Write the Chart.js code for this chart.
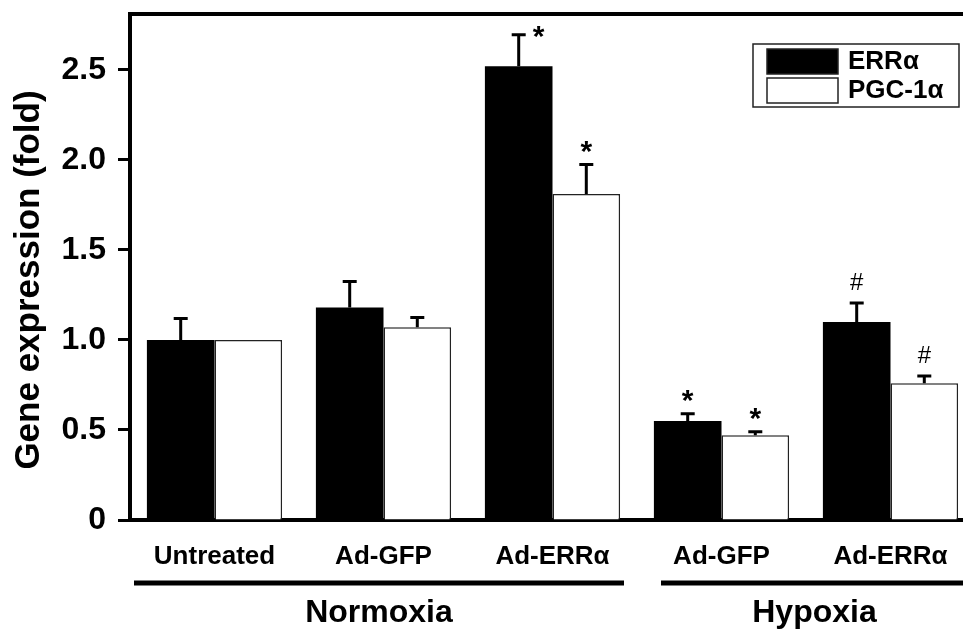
<!DOCTYPE html>
<html>
<head>
<meta charset="utf-8">
<script src="https://cdn.jsdelivr.net/npm/chart.js@4.4.1/dist/chart.umd.min.js"></script>
<style>
  html, body { margin: 0; padding: 0; background: #fff; overflow: hidden; width: 963px; height: 632px; }
  #wrap { position: absolute; left: 0; top: 0; width: 980px; height: 632px; }
  canvas { display: block; }
</style>
</head>
<body>
<div id="wrap"><canvas id="c" width="980" height="632"></canvas></div>
<script>
// ---- data ----
const categories = ['Untreated', 'Ad-GFP', 'Ad-ERR\u03B1', 'Ad-GFP', 'Ad-ERR\u03B1'];
const groupNames = ['Normoxia', 'Hypoxia'];
const groupFirst = [0, 3];
const groupLast = [2, 4];
const seriesNames = ['ERR\u03B1', 'PGC-1\u03B1'];
const errValues = [1.0, 1.18, 2.52, 0.55, 1.10];
const errErrors = [0.125, 0.15, 0.18, 0.045, 0.11];
const errMarks = ['', '', '*', '*', '#'];
const pgcValues = [1.0, 1.07, 1.81, 0.47, 0.76];
const pgcErrors = [0, 0.06, 0.17, 0.025, 0.045];
const pgcMarks = ['', '', '*', '*', '#'];
const yTicks = [0, 0.5, 1.0, 1.5, 2.0, 2.5];
const yTitle = 'Gene expression (fold)';

const FONT = '"Liberation Sans", Arial, Helvetica, sans-serif';
const errorsBySet = [errErrors, pgcErrors];
const marksBySet = [errMarks, pgcMarks];

const decorPlugin = {
  id: 'decor',
  afterDatasetsDraw(chart) {
    const ctx = chart.ctx;
    const area = chart.chartArea;
    const y = chart.scales.y;
    ctx.save();
    // top spine
    ctx.strokeStyle = '#000';
    ctx.lineWidth = 4;
    ctx.beginPath();
    ctx.moveTo(area.left - 2, area.top);
    ctx.lineTo(chart.width, area.top);
    ctx.stroke();
    // y-axis title
    ctx.save();
    ctx.translate(29, 280);
    ctx.rotate(-Math.PI / 2);
    ctx.fillStyle = '#000';
    ctx.font = 'bold 35px ' + FONT;
    ctx.textAlign = 'center';
    ctx.textBaseline = 'middle';
    ctx.fillText(yTitle, 0, 0);
    ctx.restore();
    // error bars and markers
    chart.data.datasets.forEach((ds, di) => {
      const meta = chart.getDatasetMeta(di);
      meta.data.forEach((bar, i) => {
        const v = ds.data[i];
        const e = errorsBySet[di][i];
        const yTop = y.getPixelForValue(v + e);
        const cx = bar.x;
        if (e > 0) {
          ctx.strokeStyle = '#000';
          ctx.lineWidth = 3;
          ctx.beginPath();
          ctx.moveTo(cx, bar.y);
          ctx.lineTo(cx, yTop);
          ctx.moveTo(cx - 7, yTop + 1);
          ctx.lineTo(cx + 7, yTop + 1);
          ctx.stroke();
        }
        const m = marksBySet[di][i];
        if (m) {
          ctx.fillStyle = '#000';
          ctx.textAlign = 'center';
          ctx.textBaseline = 'middle';
          if (m === '*') {
            ctx.font = 'bold 30px ' + FONT;
            let mx = cx, my = yTop - 11;
            if (my - 20 < area.top) { mx = cx + 20; my = yTop + 4; }
            ctx.fillText(m, mx, my);
          } else {
            ctx.font = '24px ' + FONT;
            ctx.fillText(m, cx, yTop - 19);
          }
        }
      });
    });
    // legend box
    const lx = 753, ly = 44, lw = 206, lh = 63;
    ctx.lineWidth = 1.5;
    ctx.strokeStyle = '#222';
    ctx.strokeRect(lx, ly, lw, lh);
    chart.data.datasets.forEach((ds, di) => {
      const sy = ly + 5 + di * 29;
      ctx.fillStyle = ds.backgroundColor;
      ctx.fillRect(lx + 14, sy, 71, 25);
      ctx.lineWidth = 1.5;
      ctx.strokeStyle = '#222';
      ctx.strokeRect(lx + 14, sy, 71, 25);
      ctx.fillStyle = '#000';
      ctx.font = 'bold 26px ' + FONT;
      ctx.textAlign = 'left';
      ctx.textBaseline = 'middle';
      ctx.fillText(ds.label, lx + 95, sy + 13);
    });
    // group lines and names
    const x = chart.scales.x;
    const half = (x.getPixelForValue(1) - x.getPixelForValue(0)) / 2;
    const insetL = [4, 24], insetR = [13, 7];
    groupNames.forEach((g, gi) => {
      const x0 = x.getPixelForValue(groupFirst[gi]) - half + insetL[gi];
      const x1 = x.getPixelForValue(groupLast[gi]) + half - insetR[gi];
      ctx.strokeStyle = '#000';
      ctx.lineWidth = 5;
      ctx.beginPath();
      ctx.moveTo(x0, 583);
      ctx.lineTo(x1, 583);
      ctx.stroke();
      ctx.fillStyle = '#000';
      ctx.font = 'bold 32px ' + FONT;
      ctx.textAlign = 'center';
      ctx.textBaseline = 'middle';
      ctx.fillText(g, (x0 + x1) / 2, 613);
    });
    ctx.restore();
  }
};

new Chart(document.getElementById('c'), {
  type: 'bar',
  data: {
    labels: categories,
    datasets: [
      { label: seriesNames[0], data: errValues, backgroundColor: '#000', borderColor: '#000', borderWidth: 0 },
      { label: seriesNames[1], data: pgcValues, backgroundColor: '#fff', borderColor: '#222', borderWidth: 1.5 }
    ]
  },
  options: {
    responsive: false,
    animation: false,
    devicePixelRatio: 1,
    layout: { padding: { top: 14, right: 5, left: 0, bottom: 0 } },
    plugins: { legend: { display: false }, tooltip: { enabled: false } },
    datasets: { bar: { categoryPercentage: 0.8, barPercentage: 1.0 } },
    scales: {
      x: {
        grid: { display: false, drawTicks: false },
        border: { display: true, color: '#000', width: 4 },
        ticks: { color: '#000', font: { family: FONT, size: 26, weight: 'bold' }, padding: 21, maxRotation: 0, autoSkip: false },
        afterFit: (s) => { s.height = 112; s.paddingLeft = 0; s.paddingRight = 0; }
      },
      y: {
        min: 0,
        max: 2.81,
        afterBuildTicks: (s) => { s.ticks = yTicks.map(v => ({ value: v })); },
        grid: { display: true, drawOnChartArea: false, drawTicks: true, tickLength: 12, tickWidth: 3, tickColor: '#000', color: '#000' },
        border: { display: true, color: '#000', width: 4 },
        ticks: {
          color: '#000',
          font: { family: FONT, size: 32, weight: 'bold' },
          padding: 12,
          callback: (v) => (v === 0 ? '0' : Number(v).toFixed(1))
        },
        afterFit: (s) => { s.width = 130; s.paddingTop = 0; s.paddingBottom = 0; }
      }
    }
  },
  plugins: [decorPlugin]
});
</script>
</body>
</html>
